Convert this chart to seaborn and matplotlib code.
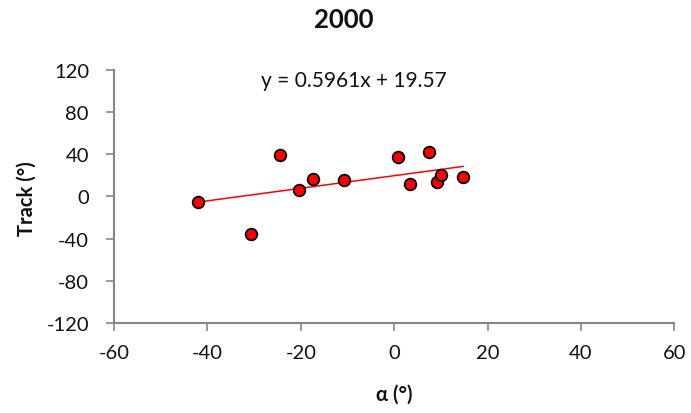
import matplotlib
matplotlib.use("Agg")
import matplotlib.pyplot as plt
import seaborn as sns
import pandas as pd
import numpy as np

sns.set_style("white")
plt.rcParams["font.family"] = ["Lato", "DejaVu Sans"]
plt.rcParams["axes.unicode_minus"] = False

alpha = [-42.0, -30.6, -24.4, -20.3, -17.3, -10.7, 0.85, 3.3, 7.4, 9.1, 10.1, 14.8]
track = [-5.0, -35.4, 38.9, 6.0, 16.4, 15.5, 37.6, 11.7, 41.7, 13.3, 20.2, 18.7]
slope, intercept = 0.5961, 19.57
x_ticks = [-60, -40, -20, 0, 20, 40, 60]
y_ticks = [-120, -80, -40, 0, 40, 80, 120]

df = pd.DataFrame({"alpha": alpha, "track": track})

W, H = 691, 414
fig = plt.figure(figsize=(W / 100, H / 100), dpi=100)
ax = fig.add_axes([114 / W, 1 - 324 / H, (674.3 - 114) / W, (324 - 70.7) / H])

sns.scatterplot(data=df, x="alpha", y="track", ax=ax, color="#ff0000",
                edgecolor="black", linewidth=1.3, s=70, zorder=3)

# linear trendline over the span of the data
xs = np.array([min(alpha), max(alpha)])
sns.lineplot(x=xs, y=slope * xs + intercept, ax=ax, color="#ff0000", linewidth=1.1, zorder=2)

fig.text(354 / W, 1 - 81 / H, f"y = {slope}x + {intercept}",
         ha="center", va="center", fontsize=15, color="#111111")

ax.set_xlim(-60, 60)
ax.set_ylim(-120, 120)
ax.set_xticks(x_ticks)
ax.set_yticks(y_ticks)
ax.tick_params(axis="both", labelsize=14.5, colors="#868686", labelcolor="#111111",
               direction="out", length=6, width=1.2, bottom=True, left=True)
ax.tick_params(axis="x", pad=9)
ax.tick_params(axis="y", pad=12)
for side in ["top", "right"]:
    ax.spines[side].set_visible(False)
for side in ["left", "bottom"]:
    ax.spines[side].set_color("#868686")
    ax.spines[side].set_linewidth(1.5)

ax.set_xlabel("")
ax.set_ylabel("")
fig.text(394 / W, 1 - 395 / H, "α (°)", ha="center", va="center",
         fontsize=14.5, fontweight="bold", color="#111111")
fig.text(27 / W, 1 - 199 / H, "Track (°)", ha="center", va="center", rotation=90,
         fontsize=14.5, fontweight="bold", color="#111111")
fig.text(344 / W, 1 - 20 / H, "2000", ha="center", va="center",
         fontsize=18.5, fontweight="bold", color="#111111")

fig.savefig("out.png", dpi=100)
